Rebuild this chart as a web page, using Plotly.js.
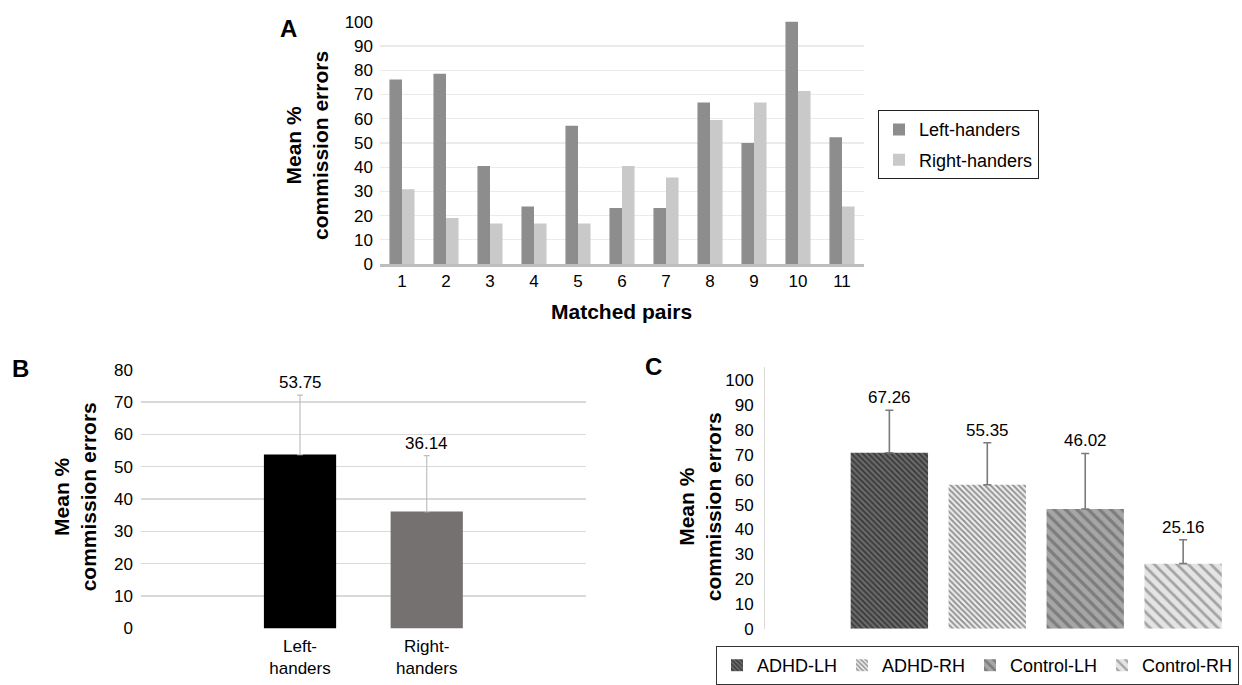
<!DOCTYPE html>
<html>
<head>
<meta charset="utf-8">
<script src="https://cdn.plot.ly/plotly-3.0.1.min.js"></script>
<style>html,body{margin:0;padding:0;background:#fff;}#chart{width:1242px;height:685px;}</style>
</head>
<body>
<div id="chart"></div>
<script>
// ---- Panel A data ----
const pairs = ['1','2','3','4','5','6','7','8','9','10','11'];
const leftHanders  = [76.2, 78.6, 40.5, 23.8, 57.1, 23.1, 23.1, 66.7, 50.0, 100, 52.4];
const rightHanders = [30.9, 19.0, 16.7, 16.7, 16.7, 40.5, 35.7, 59.5, 66.7, 71.4, 23.8];

// ---- Panel B data ----
const groupsB = ['Left-<br>handers', 'Right-<br>handers'];
const meansB  = [53.75, 36.14];
const errB    = [18.4, 17.3];
const labelsB = ['53.75', '36.14'];

// ---- Panel C data ----
const groupsC = ['ADHD-LH', 'ADHD-RH', 'Control-LH', 'Control-RH'];
const barsC   = [70.9, 58.0, 48.2, 26.2];
const errC    = [17.1, 16.9, 22.4, 9.6];
const labelsC = ['67.26', '55.35', '46.02', '25.16'];

const W = 1242, H = 685;
const px = x => x / W;
const py = y => 1 - y / H;
const FONT = 'Liberation Sans, Arial, sans-serif';

const patternsC = [
  {shape: '\\', bgcolor: '#6b6b6b', fgcolor: '#383838', size: 4, solidity: 0.45},
  {shape: '\\', bgcolor: '#ececec', fgcolor: '#8c8c8c', size: 4, solidity: 0.45},
  {shape: '\\', bgcolor: '#a6a6a6', fgcolor: '#7d7d7d', size: 8, solidity: 0.4},
  {shape: '\\', bgcolor: '#e4e4e4', fgcolor: '#a3a3a3', size: 8, solidity: 0.35}
];

const traces = [
  {type: 'bar', name: 'Left-handers', x: pairs, y: leftHanders, xaxis: 'x', yaxis: 'y',
   marker: {color: '#8d8d8d'}, legend: 'legend', legendgroup: 'l', hoverinfo: 'none'},
  {type: 'bar', name: 'Right-handers', x: pairs, y: rightHanders, xaxis: 'x', yaxis: 'y',
   marker: {color: '#c9c9c9'}, legend: 'legend', legendgroup: 'r', hoverinfo: 'none'},
  {type: 'bar', x: groupsB, y: meansB, xaxis: 'x2', yaxis: 'y2', showlegend: false,
   marker: {color: ['#000000', '#767171']}, hoverinfo: 'none',
   error_y: {type: 'data', array: errB, arrayminus: errB.map(() => 0), symmetric: false,
             color: '#bfbfbf', thickness: 1.2, width: 3}}
];
groupsC.forEach((g, i) => {
  traces.push({type: 'bar', name: g, x: [g], y: [barsC[i]], xaxis: 'x3', yaxis: 'y3',
    width: 0.79, offset: -0.395, legend: 'legend2', hoverinfo: 'none',
    marker: {color: patternsC[i].bgcolor, pattern: patternsC[i], line: {width: 0}},
    error_y: {type: 'data', array: [errC[i]], arrayminus: [0], symmetric: false,
              color: '#7a7a7a', thickness: 1.6, width: 4}});
});

const ann = [];
const lab = (text, x, y, size, angle) => ({text, x: px(x), y: py(y), xref: 'paper', yref: 'paper',
  xanchor: 'center', yanchor: 'middle', showarrow: false, textangle: angle || 0,
  font: {size, color: '#000', family: FONT}});
// panel letters
ann.push(lab('<b>A</b>', 288, 29, 24));
ann.push(lab('<b>B</b>', 20, 371, 24));
ann.push(lab('<b>C</b>', 653, 369, 24));
// y titles
const ytitle = '<b>Mean %<br>commission errors</b>';
ann.push(lab(ytitle, 307, 147, 21, -90));
ann.push(lab(ytitle, 75, 501, 21, -90));
ann.push(lab(ytitle, 700, 510, 21, -90));
// x title A
ann.push(lab('<b>Matched pairs</b>', 621, 314, 21));
// value labels B
groupsB.forEach((g, i) => ann.push({text: labelsB[i], x: g, y: meansB[i] + errB[i], xref: 'x2', yref: 'y2',
  yanchor: 'bottom', yshift: 1, showarrow: false, font: {size: 17, color: '#000', family: FONT}}));
// value labels C
groupsC.forEach((g, i) => ann.push({text: labelsC[i], x: g, y: barsC[i] + errC[i], xref: 'x3', yref: 'y3',
  yanchor: 'bottom', yshift: 1, showarrow: false, font: {size: 17, color: '#000', family: FONT}}));

const tickFont = {size: 17, color: '#000', family: FONT};

const layout = {
  width: W, height: H,
  margin: {l: 0, r: 0, t: 0, b: 0},
  paper_bgcolor: '#fff', plot_bgcolor: 'rgba(0,0,0,0)',
  font: {family: FONT, color: '#000'},
  barmode: 'group', bargap: 0.43, bargroupgap: 0,
  showlegend: true,
  xaxis: {domain: [px(380), px(864)], type: 'category', range: [-0.5, 10.5], anchor: 'y',
          showline: true, linecolor: '#bdbdbd', linewidth: 2.5, ticks: '', tickfont: tickFont,
          showgrid: false, zeroline: false, fixedrange: true},
  yaxis: {domain: [py(266), py(21)], range: [0, 100.4], anchor: 'x', dtick: 10, tickfont: tickFont,
          showgrid: true, gridcolor: '#ebebeb', gridwidth: 1.2, zeroline: false, showline: false,
          ticks: '', ticklabelstandoff: 6, fixedrange: true},
  xaxis2: {domain: [px(141), px(586)], type: 'category', range: [-1.255, 2.257], anchor: 'y2',
           showline: false, ticks: '', tickfont: tickFont, showgrid: false, zeroline: false,
           ticklabelstandoff: 6, fixedrange: true},
  yaxis2: {domain: [py(633), py(371.5)], range: [0, 80.3], anchor: 'x2', dtick: 10, tickfont: tickFont,
           showgrid: true, gridcolor: '#d9d9d9', gridwidth: 1.5, zeroline: false, showline: false,
           ticks: '', ticklabelstandoff: 7, fixedrange: true},
  xaxis3: {domain: [px(765), px(1237)], type: 'category', range: [-1.27, 3.55], anchor: 'y3',
           showline: false, showticklabels: false, ticks: '', showgrid: false, zeroline: false, fixedrange: true},
  yaxis3: {domain: [py(633.3), py(370)], range: [0, 105.3], anchor: 'x3', tickvals: [0,10,20,30,40,50,60,70,80,90,100],
           tickfont: tickFont, showgrid: false, zeroline: false, showline: true, linecolor: '#d9d9d9', linewidth: 1,
           ticks: '', ticklabelstandoff: 7, fixedrange: true},
  legend: {x: px(878), y: py(111), xanchor: 'left', yanchor: 'top', orientation: 'v',
           bordercolor: '#222', borderwidth: 1, bgcolor: '#fff', font: {size: 18, color: '#000', family: FONT},
           tracegroupgap: 4, itemwidth: 30},
  legend2: {x: px(716), y: py(651), xanchor: 'left', yanchor: 'top', orientation: 'h',
            bordercolor: '#333', borderwidth: 1, bgcolor: '#fff', font: {size: 18, color: '#000', family: FONT},
            itemwidth: 30},
  annotations: ann
};

Plotly.newPlot('chart', traces, layout, {displayModeBar: false, staticPlot: true});
</script>
</body>
</html>
